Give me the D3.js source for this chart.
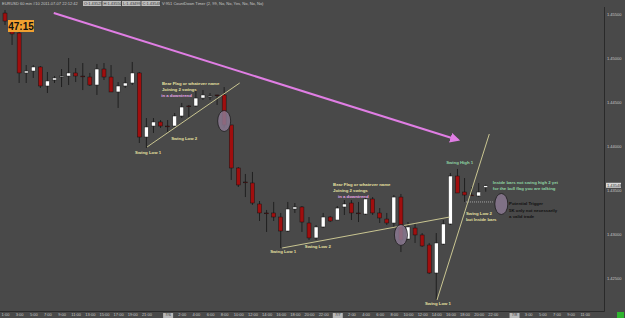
<!DOCTYPE html>
<meta charset="utf-8">
<style>
  body { margin: 0; background: #494949; }
  svg { display: block; }
  text { font-family: 'Liberation Sans', Arial, sans-serif; }
</style>
<svg width="625" height="318"></svg>
<script src="https://cdnjs.cloudflare.com/ajax/libs/d3/7.8.5/d3.min.js"></script>
<script>
// EURUSD 60 min candles
var opens = [1.45511,1.45307,1.45284,1.44830,1.44852,1.44898,1.44682,1.44750,1.44784,1.44795,
  1.44830,1.44795,1.44784,1.44693,1.44875,1.44784,1.44614,1.44682,1.44716,1.44830,
  1.44102,1.44227,1.44273,1.44227,1.44227,1.44341,1.44455,1.44455,1.44545,1.44557,
  1.44580,1.44580,1.44239,1.43750,1.43591,1.43580,1.43341,1.43239,1.43239,1.43193,
  1.43034,1.43284,1.43307,1.43125,1.42955,1.43080,1.43193,1.43159,1.43307,1.43352,
  1.43239,1.43227,1.43398,1.43239,1.43170,1.43125,1.43420,1.42943,1.43068,1.42989,
  1.42875,1.42557,1.42886,1.43114,1.43659,1.43477,1.43443,1.43432,1.43529];
var highs = [1.45545,1.45409,1.45307,1.44920,1.44920,1.44909,1.44841,1.44795,1.44875,1.45000,
  1.44886,1.44943,1.44830,1.44932,1.44943,1.44920,1.44727,1.44784,1.44955,1.44841,
  1.44318,1.44318,1.44295,1.44295,1.44375,1.44489,1.44466,1.44636,1.44636,1.44602,
  1.44582,1.44670,1.44239,1.43761,1.43682,1.43705,1.43375,1.43273,1.43364,1.43239,
  1.43364,1.43352,1.43318,1.43193,1.43102,1.43239,1.43205,1.43318,1.43386,1.43386,
  1.43364,1.43420,1.43420,1.43295,1.43239,1.43443,1.43455,1.43136,1.43125,1.43011,
  1.42898,1.43011,1.43159,1.43693,1.43739,1.43636,1.43534,1.43580,1.43560];
var lows = [1.45375,1.45148,1.44716,1.44716,1.44773,1.44659,1.44602,1.44716,1.44670,1.44693,
  1.44727,1.44636,1.44682,1.44580,1.44750,1.44614,1.44432,1.44659,1.44693,1.44034,
  1.43977,1.44148,1.44205,1.44159,1.44216,1.44318,1.44330,1.44443,1.44523,1.44523,
  1.44466,1.44205,1.43614,1.43534,1.43420,1.43330,1.43148,1.43023,1.43148,1.42841,
  1.43023,1.43239,1.43023,1.42932,1.42932,1.43068,1.43136,1.43159,1.43216,1.43159,
  1.43136,1.43216,1.43216,1.43125,1.43102,1.43080,1.42795,1.42932,1.42898,1.42852,
  1.42545,1.42250,1.42875,1.43102,1.43466,1.43364,1.43432,1.43420,1.43480];
var closes = [1.45420,1.45273,1.44830,1.44852,1.44898,1.44682,1.44739,1.44773,1.44795,1.44830,
  1.44795,1.44790,1.44693,1.44875,1.44784,1.44614,1.44682,1.44716,1.44830,1.44102,
  1.44216,1.44273,1.44227,1.44222,1.44341,1.44443,1.44450,1.44545,1.44580,1.44568,
  1.44575,1.44239,1.43750,1.43557,1.43586,1.43352,1.43239,1.43234,1.43193,1.43034,
  1.43284,1.43307,1.43136,1.42955,1.43080,1.43193,1.43148,1.43295,1.43341,1.43239,
  1.43234,1.43398,1.43239,1.43182,1.43125,1.43420,1.42932,1.43080,1.42989,1.42864,
  1.42557,1.42898,1.43114,1.43659,1.43466,1.43443,1.43440,1.43477,1.43548];

var priceTicks = [1.425, 1.430, 1.435, 1.440, 1.445, 1.450, 1.455];
var lastPrice = 1.43548;

// hour slots on the time axis (slot 0 = first candle)
var timeSlots = [0,2,4,6,8,10,12,14,16,18,20,
  23,25,27,29,31,33,35,37,39,41,43,45,
  47,49,51,53,55,57,59,61,63,65,67,69,
  72,74,76,78,80,82];
var timeLabels = ["1:00","3:00","5:00","7:00","9:00","11:00","13:00","15:00","17:00","19:00","21:00",
  "7/6","2:00","4:00","6:00","8:00","10:00","12:00","14:00","16:00","18:00","20:00","22:00",
  "7/7","2:00","4:00","6:00","8:00","10:00","12:00","14:00","16:00","18:00","20:00","22:00",
  "7/8","3:00","5:00","7:00","9:00","11:00"];

// hand-drawn annotations, in [slot, price]
var trendLines = [
  [[20.1, 1.43989], [33.2, 1.44716]],
  [[39.2, 1.42841], [62.9, 1.43193]],
  [[61.1, 1.42250], [68.5, 1.44136]]
];
var arrowLine = [[6.9, 1.45511], [64.1, 1.44068]];
var triggerLine = [[65.2, 1.43364], [69.0, 1.43364]];
var ellipses = [[31.0, 1.44284], [56.0, 1.42989], [70.2, 1.43341]];
var notes = [
  [22.2, 1.44693, "Bear Flag or whatever name", "#e6e0a0"],
  [22.2, 1.44625, "Joining 2 swings", "#e6e0a0"],
  [22.1, 1.44557, "in a downtrend", "#e8a6e8"],
  [18.4, 1.43909, "Swing Low 1", "#e6e0a0"],
  [23.5, 1.44068, "Swing Low 2", "#e6e0a0"],
  [46.4, 1.43545, "Bear Flag or whatever name", "#e6e0a0"],
  [46.4, 1.43477, "Joining 2 swings", "#e6e0a0"],
  [47.1, 1.43409, "in a downtrend", "#e8a6e8"],
  [37.5, 1.42784, "Swing Low 1", "#e6e0a0"],
  [42.4, 1.42841, "Swing Low 2", "#e6e0a0"],
  [62.4, 1.43795, "Swing High 1", "#8fd4a4"],
  [69.0, 1.43568, "Inside bars not swing high 2 yet", "#8fd4a4"],
  [69.0, 1.43500, "for  the bull flag you are talking", "#8fd4a4"],
  [65.2, 1.43216, "Swing Low 2", "#e6e0a0"],
  [65.2, 1.43148, "but Inside bars", "#e6e0a0"],
  [71.3, 1.43330, "Potential Trigger", "#111"],
  [71.3, 1.43250, "5K only not necessarily", "#111"],
  [71.3, 1.43182, "a valid trade", "#111"],
  [59.4, 1.42193, "Swing Low 1", "#e6e0a0"]
];

var svg = d3.select("svg"),
    W = 625, H = 318, plotRight = 604, plotBottom = 311;

var x = d3.scaleLinear().domain([0, 85]).range([5, 5 + 7.07 * 85]);
var y = d3.scaleLinear().domain([1.425, 1.455]).range([278, 14]);

var data = opens.map(function(o, i) {
  return {i: i, o: o, h: highs[i], l: lows[i], c: closes[i]};
});

// frame
svg.append("rect").attr("width", W).attr("height", H).attr("fill", "#494949");
svg.append("line").attr("x1", plotRight + 0.5).attr("x2", plotRight + 0.5)
    .attr("y1", 7).attr("y2", plotBottom + 0.5).attr("stroke", "#2a2a2a");
svg.append("line").attr("x1", 0).attr("x2", plotRight + 0.5)
    .attr("y1", plotBottom + 0.5).attr("y2", plotBottom + 0.5).attr("stroke", "#2a2a2a");

// price axis
var yAxis = svg.append("g")
    .attr("transform", "translate(" + plotRight + ",0)")
    .call(d3.axisRight(y).tickValues(priceTicks).tickSize(0).tickPadding(3).tickFormat(d3.format(".5f")));
yAxis.select(".domain").remove();
yAxis.selectAll("text").attr("fill", "#c8c8c8").style("font-size", "4px");

// time axis
var xAxis = svg.append("g")
    .attr("transform", "translate(0," + plotBottom + ")")
    .call(d3.axisBottom(x).tickValues(timeSlots).tickSize(0).tickPadding(2)
      .tickFormat(function(d, k) { return timeLabels[k]; }));
xAxis.select(".domain").remove();
xAxis.selectAll("text").attr("fill", "#c8c8c8").style("font-size", "4px");
xAxis.selectAll(".tick").filter(function(d, k) { return timeLabels[k].indexOf("/") > 0; })
  .each(function() {
    var t = d3.select(this);
    t.insert("rect", "text").attr("x", -5).attr("y", 2).attr("width", 10).attr("height", 5)
      .attr("fill", "#b8b8b8");
    t.select("text").attr("fill", "#333");
  });

// candles
var candle = svg.append("g").selectAll("g").data(data).join("g");
candle.append("line")
    .attr("x1", function(d) { return x(d.i); })
    .attr("x2", function(d) { return x(d.i); })
    .attr("y1", function(d) { return y(d.h); })
    .attr("y2", function(d) { return y(d.l); })
    .attr("stroke", "#151515").attr("stroke-width", 0.8);
candle.append("rect")
    .attr("x", function(d) { return x(d.i) - 2; })
    .attr("width", 4)
    .attr("y", function(d) { return y(Math.max(d.o, d.c)); })
    .attr("height", function(d) { return Math.max(0.8, Math.abs(y(d.o) - y(d.c))); })
    .attr("fill", function(d) { return d.c >= d.o ? "#ffffff" : "#a00e0e"; })
    .attr("stroke", "#151515").attr("stroke-width", 0.5);

// annotations
var line = d3.line().x(function(p) { return x(p[0]); }).y(function(p) { return y(p[1]); });

svg.append("g").selectAll("path").data(trendLines).join("path")
    .attr("d", line).attr("fill", "none").attr("stroke", "#d8d49a").attr("stroke-width", 0.9);

svg.append("path").datum(triggerLine).attr("d", line)
    .attr("stroke", "#d0d0d0").attr("stroke-width", 0.7).attr("stroke-dasharray", "1,1");

svg.append("defs").append("marker")
    .attr("id", "head").attr("viewBox", "0 0 10 10").attr("refX", 8).attr("refY", 5)
    .attr("markerWidth", 5).attr("markerHeight", 5).attr("orient", "auto")
  .append("path").attr("d", "M0,0L10,5L0,10z").attr("fill", "#e07ee4");
svg.append("path").datum(arrowLine).attr("d", line)
    .attr("stroke", "#e07ee4").attr("stroke-width", 2).attr("marker-end", "url(#head)");

svg.append("g").selectAll("ellipse").data(ellipses).join("ellipse")
    .attr("cx", function(p) { return x(p[0]); })
    .attr("cy", function(p) { return y(p[1]); })
    .attr("rx", 6.5).attr("ry", 10.5)
    .attr("fill", "#8a7890").attr("fill-opacity", 0.85)
    .attr("stroke", "#1c1c1c").attr("stroke-width", 0.8);

svg.append("g").selectAll("text").data(notes).join("text")
    .attr("x", function(n) { return x(n[0]); })
    .attr("y", function(n) { return y(n[1]); })
    .attr("fill", function(n) { return n[3]; })
    .style("font-size", "4.3px").style("font-weight", "bold")
    .text(function(n) { return n[2]; });

// header line
var header = svg.append("g").attr("transform", "translate(2,5)").style("font-size", "4px");
header.append("text").attr("fill", "#c8c8c8").text("EURUSD 60 min   #10 2011-07-07 22:12:42");
var boxes = ["O:1.43529", "H:1.43550", "L:1.43499", "C:1.43548"];
boxes.forEach(function(s, k) {
  header.append("rect").attr("x", 81 + k * 19.5).attr("y", -4).attr("width", 18.5).attr("height", 5)
    .attr("fill", "#bdbdbd");
  header.append("text").attr("x", 82 + k * 19.5).attr("fill", "#333").text(s);
});
header.append("text").attr("x", 160).attr("fill", "#c8c8c8")
  .text("V:951 CountDown Timer      (2, 99, No, No, Yes, No, No, No)");

// countdown box
svg.append("rect").attr("x", 8).attr("y", 20).attr("width", 26).attr("height", 12).attr("fill", "#f0a030");
svg.append("text").attr("x", 21).attr("y", 30).attr("text-anchor", "middle")
  .style("font-size", "10px").style("font-weight", "bold").attr("fill", "#111").text("47:15");

// last price tag
svg.append("rect").attr("x", plotRight + 2).attr("y", y(lastPrice) - 3).attr("width", 15).attr("height", 5)
  .attr("fill", "#d8d8d8");
svg.append("text").attr("x", plotRight + 3).attr("y", y(lastPrice) + 1).style("font-size", "4px")
  .attr("fill", "#333").text(d3.format(".5f")(lastPrice));

// status light
svg.append("rect").attr("x", 617).attr("y", 312).attr("width", 7).attr("height", 6).attr("fill", "#2fb52f");
</script>
